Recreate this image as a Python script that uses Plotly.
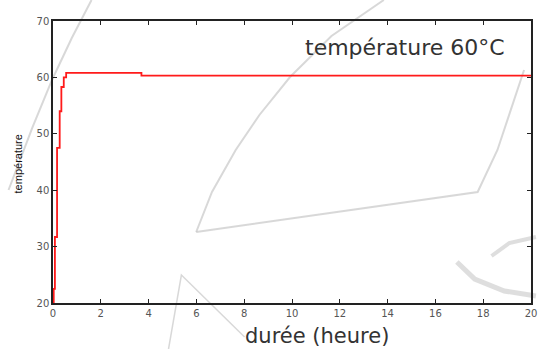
import plotly.graph_objects as go

# data (hours, °C), drawn as steps
duree = [0, 0.03, 0.08, 0.17, 0.28, 0.35, 0.45, 0.55, 3.7, 20]
temperature = [20, 22.5, 31.7, 47.5, 54, 58.3, 60.0, 60.8, 60.3, 60.3]
x_ticks = list(range(0, 21, 2))
y_ticks = [20, 30, 40, 50, 60, 70]

W, H = 542, 349
L, R, T, B = 53, 5, 21, 46
PW, PH = W - L - R, H - T - B


def px(x, y):
    return (x - L) / PW, 1 - (y - T) / PH


def path(points):
    s = ""
    for i, (x, y) in enumerate(points):
        u, v = px(x, y)
        s += ("M" if i == 0 else "L") + f"{u:.4f},{v:.4f} "
    return s.strip()


fig = go.Figure()
fig.add_trace(go.Scatter(x=duree, y=temperature, mode="lines", line_shape="hv",
                         line=dict(color="#ff1a1a", width=1.8), showlegend=False,
                         cliponaxis=False))

wm = "rgba(200,200,200,0.7)"
shapes = [
    # faint background watermark strokes
    dict(pts=[(388, 0), (335, 36), (293, 77), (262, 115), (238, 150), (214, 192), (198, 232)], w=2),
    dict(pts=[(198, 232), (483, 192), (503, 150), (530, 70)], w=2),
    dict(pts=[(92, 0), (72, 38), (52, 80), (32, 128), (8, 190)], w=2),
    dict(pts=[(170, 349), (183, 275), (247, 337)], w=1.5),
]
shape_list = []
for s in shapes:
    shape_list.append(dict(type="path", xref="paper", yref="paper", path=path(s["pts"]),
                           line=dict(color=wm, width=s["w"]), layer="below"))
shape_list.append(dict(type="path", xref="paper", yref="paper",
                       path=path([(462, 262), (480, 279), (510, 291), (542, 296)]),
                       line=dict(color="rgba(190,190,190,0.5)", width=5), layer="below"))
shape_list.append(dict(type="path", xref="paper", yref="paper",
                       path=path([(497, 256), (515, 243), (542, 237)]),
                       line=dict(color="rgba(190,190,190,0.5)", width=4), layer="below"))

axis_common = dict(showgrid=False, zeroline=False, showline=True, linecolor="#222",
                   linewidth=1.5, mirror="ticks", ticks="inside", ticklen=4,
                   tickcolor="#222", tickwidth=1.3,
                   tickfont=dict(family="DejaVu Sans", size=10, color="#555"))

fig.update_layout(
    width=W, height=H,
    margin=dict(l=L, r=R, t=T, b=B),
    paper_bgcolor="white", plot_bgcolor="rgba(0,0,0,0)",
    xaxis=dict(range=[0, 20], tickvals=x_ticks, ticktext=[str(v) for v in x_ticks], **axis_common),
    yaxis=dict(range=[20, 70], tickvals=y_ticks, ticktext=[str(v) for v in y_ticks], **axis_common),
    shapes=shape_list,
    annotations=[
        dict(text="température 60°C", xref="paper", yref="paper",
             x=px(409, 0)[0], y=px(0, 48)[1], showarrow=False, xanchor="center", yanchor="middle",
             font=dict(family="DejaVu Sans", size=22, color="#333")),
        dict(text="durée (heure)", xref="paper", yref="paper",
             x=px(320, 0)[0], y=px(0, 336)[1], showarrow=False, xanchor="center", yanchor="middle",
             font=dict(family="DejaVu Sans", size=21, color="#333")),
        dict(text="température", xref="paper", yref="paper", textangle=-90,
             x=px(18, 0)[0], y=px(0, 164)[1], showarrow=False, xanchor="center", yanchor="middle",
             font=dict(family="Liberation Sans", size=11, color="#111")),
    ],
)

fig.write_html("out.html")
